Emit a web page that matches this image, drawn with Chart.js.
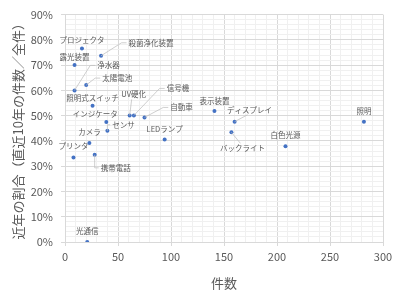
<!DOCTYPE html>
<html>
<head>
<meta charset="utf-8">
<script src="https://cdn.jsdelivr.net/npm/chart.js@4"></script>
<style>
  html, body { margin: 0; padding: 0; background: #fff; }
  #wrap { width: 400px; height: 296px; }
</style>
</head>
<body>
<div id="wrap"><canvas id="chart" width="400" height="296"></canvas></div>
<script>
const names  = ['プロジェクタ', '殺菌浄化装置', '露光装置', '浄水器', '太陽電池', '照明式スイッチ', 'UV硬化', '信号機', '自動車', 'インジケータ', 'センサ', 'LEDランプ', 'カメラ', 'プリンタ', '携帯電話', '光通信', '表示装置', 'ディスプレイ', 'バックライト', '照明', '白色光源'];
const counts = [16, 34, 9, 9, 20, 26, 61, 65, 75, 39, 40, 94, 23, 8, 28, 21, 141, 160, 157, 282, 208];
const ratios = [76.6, 73.7, 70.1, 60.0, 62.1, 53.9, 50.1, 50.1, 49.3, 47.5, 44.0, 40.6, 39.2, 33.4, 34.5, 0, 51.8, 47.6, 43.4, 47.6, 37.9];

const X_TITLE = '件数';
const Y_TITLE = '近年の割合（直近10年の件数／全件）';

// label placement relative to each point: [dx, dy, leader side]
const labelPos = [
  [0, -8, null], [50, -13, 'l'], [0, -8, null], [34, -25, 'l'], [31, -7, 'l'],
  [0, -8, null], [4, -21, 'b'], [44, -27, 'l'], [37, -10, 'l'], [-11, -8, null],
  [16, -6, 'l'], [0, -10, null], [0, -11, null], [0, -11, null], [21, 13, 'l'],
  [0, -11, null], [0, -10, null], [15, -12, 'b'], [11, 16, 't'], [0, -11, null],
  [0, -11, null]
];

const GREY = '#595959';
const FONT = '"Noto Sans CJK JP", "Noto Sans", sans-serif';

const pointLabels = {
  id: 'pointLabels',
  afterDatasetsDraw(chart) {
    const ctx = chart.ctx;
    const meta = chart.getDatasetMeta(0);
    ctx.save();
    ctx.font = '7.5px ' + FONT;
    ctx.textAlign = 'center';
    ctx.textBaseline = 'middle';
    meta.data.forEach((pt, i) => {
      const [dx, dy, side] = labelPos[i];
      const lx = pt.x + dx, ly = pt.y + dy;
      const w = ctx.measureText(names[i]).width;
      if (side) {
        ctx.strokeStyle = '#bfbfbf';
        ctx.lineWidth = 0.75;
        ctx.beginPath();
        ctx.moveTo(pt.x, pt.y);
        if (side === 'l') {
          const ex = lx - w / 2 - 2;
          ctx.lineTo(Math.max(ex - 5, pt.x), ly);
          ctx.lineTo(ex, ly);
        } else if (side === 'b') {
          ctx.lineTo(lx - 2, ly + 5);
        } else {
          ctx.lineTo(lx - 2, ly - 5);
        }
        ctx.stroke();
      }
      ctx.fillStyle = GREY;
      ctx.fillText(names[i], lx, ly);
    });
    ctx.restore();
  }
};

new Chart(document.getElementById('chart'), {
  type: 'scatter',
  data: {
    datasets: [{
      data: counts.map((c, i) => ({ x: c, y: ratios[i] })),
      backgroundColor: '#4472C4',
      borderColor: '#4472C4',
      borderWidth: 0,
      pointRadius: 2,
      pointHoverRadius: 2
    }]
  },
  options: {
    responsive: false,
    animation: false,
    layout: { padding: { top: 11, right: 17, left: 0, bottom: 0 } },
    plugins: { legend: { display: false }, tooltip: { enabled: false } },
    scales: {
      x: {
        min: 0, max: 300,
        afterFit: s => { s.height = 54; },
        ticks: {
          stepSize: 10, maxTicksLimit: 100, autoSkip: false, maxRotation: 0,
          padding: 4, color: GREY, font: { family: FONT, size: 11 },
          callback: v => v % 50 === 0 ? String(v) : ''
        },
        grid: {
          color: c => c.tick.value % 50 === 0 ? '#d9d9d9' : '#f0f0f0',
          tickColor: c => c.tick.value % 50 === 0 ? '#d9d9d9' : 'rgba(0,0,0,0)',
          tickLength: 4
        },
        border: { color: '#d9d9d9' },
        title: { display: true, text: X_TITLE, color: GREY, font: { family: FONT, size: 13 }, padding: { top: 0, bottom: 5 } }
      },
      y: {
        min: 0, max: 90,
        afterFit: s => { s.width = 65; },
        ticks: {
          stepSize: 2, maxTicksLimit: 100, autoSkip: false,
          padding: 8, color: GREY, font: { family: FONT, size: 11 },
          callback: v => v % 10 === 0 ? v + '%' : ''
        },
        grid: {
          color: c => c.tick.value % 10 === 0 ? '#d9d9d9' : '#f0f0f0',
          tickColor: c => c.tick.value % 10 === 0 ? '#d9d9d9' : 'rgba(0,0,0,0)',
          tickLength: 4
        },
        border: { color: '#d9d9d9' },
        title: { display: true, text: Y_TITLE, color: GREY, font: { family: FONT, size: 13 }, padding: { top: 10, bottom: 0 } }
      }
    }
  },
  plugins: [pointLabels]
});
</script>
</body>
</html>
